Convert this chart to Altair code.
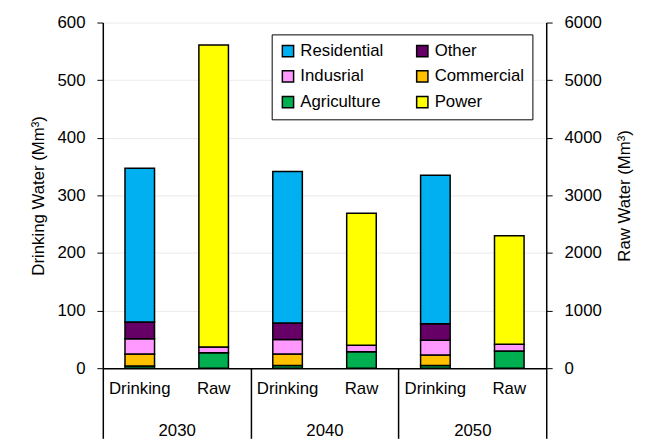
import altair as alt
import pandas as pd

years = ["2030", "2040", "2050"]
# legend domain ordered so the column-major 2-column legend reads
# Residential/Other, Indusrial/Commercial, Agriculture/Power by rows
sectors = ["Residential", "Indusrial", "Agriculture", "Other", "Commercial", "Power"]
colors = ["#00B0F0", "#FF99FF", "#00B050", "#660066", "#FFC000", "#FFFF00"]
stack_rank = {"Agriculture": 0, "Commercial": 1, "Indusrial": 2, "Other": 3, "Residential": 4, "Power": 5}

# Drinking water (Mm3, left axis)
drink_agriculture = [4, 4.5, 4.5]
drink_commercial = [20.5, 20, 18.3]
drink_industrial = [26.5, 25.5, 25.6]
drink_other = [29, 28.6, 28.6]
drink_residential = [267, 263, 258]

# Raw water (Mm3, right axis)
raw_agriculture = [268, 285, 300]
raw_industrial = [100, 115, 115]
raw_power = [5242, 2290, 1885]

rows = []
for i, y in enumerate(years):
    for s, v in [("Agriculture", drink_agriculture[i]), ("Commercial", drink_commercial[i]),
                 ("Indusrial", drink_industrial[i]), ("Other", drink_other[i]),
                 ("Residential", drink_residential[i])]:
        rows.append({"year": y, "type": "Drinking", "key": f"{y}|Drinking", "sector": s,
                     "value": v, "rank": stack_rank[s]})
    for s, v in [("Agriculture", raw_agriculture[i]), ("Indusrial", raw_industrial[i]),
                 ("Power", raw_power[i])]:
        rows.append({"year": y, "type": "Raw", "key": f"{y}|Raw", "sector": s,
                     "value": v, "rank": stack_rank[s]})
df = pd.DataFrame(rows)
keys = [f"{y}|{t}" for y in years for t in ["Drinking", "Raw"]]
year_df = pd.DataFrame({"year": years})

FONT = "Liberation Sans"
FS = 17

color = alt.Color("sector:N", scale=alt.Scale(domain=sectors, range=colors),
                  legend=alt.Legend(title=None, orient="none", legendX=171, legendY=12,
                                    columns=2, symbolType="square", symbolSize=130,
                                    symbolStrokeColor="black", symbolStrokeWidth=1.5,
                                    labelFontSize=FS, labelFont=FONT, labelColor="black",
                                    strokeColor="black", fillColor="white", padding=8,
                                    columnPadding=29, rowPadding=7, labelOffset=4))

xaxis = alt.Axis(labelExpr="split(datum.value, '|')[1]", labelAngle=0,
                 ticks=False, labelPadding=13, labelFontSize=FS, labelFont=FONT,
                 labelColor="black", domainColor="black", domainWidth=1.5)
xscale = alt.Scale(paddingInner=0.6, paddingOuter=0.3)

drink = alt.Chart(df[df.type == "Drinking"]).mark_bar(stroke="black", strokeWidth=1.5).encode(
    x=alt.X("key:N", sort=keys, title=None, scale=xscale, axis=xaxis),
    y=alt.Y("value:Q", stack="zero", title="Drinking Water (Mm³)",
            scale=alt.Scale(domain=[0, 600], nice=False),
            axis=alt.Axis(values=[0, 100, 200, 300, 400, 500, 600], grid=True, format="d",
                          gridColor="#ebebeb", gridWidth=1, tickColor="black", tickSize=6,
                          domainColor="black", domainWidth=1.5, labelFontSize=FS,
                          labelFont=FONT, labelColor="black", titleFontSize=FS,
                          titleFont=FONT, titleFontWeight="normal", titleColor="black",
                          titlePadding=10, labelPadding=12)),
    color=color,
    order=alt.Order("rank:Q"),
)

raw = alt.Chart(df[df.type == "Raw"]).mark_bar(stroke="black", strokeWidth=1.5).encode(
    x=alt.X("key:N", sort=keys, title=None, scale=xscale, axis=xaxis),
    y=alt.Y("value:Q", stack="zero", title="Raw Water (Mm³)",
            scale=alt.Scale(domain=[0, 6000], nice=False),
            axis=alt.Axis(orient="right", values=[0, 1000, 2000, 3000, 4000, 5000, 6000],
                          format="d", grid=False, tickColor="black", tickSize=6,
                          domainColor="black", domainWidth=1.5, labelFontSize=FS,
                          labelFont=FONT, labelColor="black", titleFontSize=FS,
                          titleFont=FONT, titleFontWeight="normal", titleColor="black",
                          titlePadding=16, labelPadding=12, titleAngle=270,
                          titleBaseline="top")),
    color=color,
    order=alt.Order("rank:Q"),
)

inner = alt.layer(drink, raw).resolve_scale(y="independent")

year_layer = alt.Chart(year_df).mark_point(opacity=0).encode(
    x=alt.X("year:N", sort=years, title=None,
            axis=alt.Axis(orient="bottom", labelAngle=0, domain=False, ticks=True,
                          tickBand="extent", tickSize=71, tickColor="black", tickWidth=1.5,
                          labelPadding=-16, labelFontSize=FS, labelFont=FONT,
                          labelColor="black")),
    y=alt.value(0),
)

chart = alt.layer(inner, year_layer).resolve_scale(x="independent").properties(
    width=449, height=350,
    autosize=alt.AutoSizeParams(type="none"),
    padding={"left": 96, "top": 12, "right": 99, "bottom": 71},
    background="white",
).configure_view(stroke=None)

chart.save("out.html", embed_options={"renderer": "svg", "actions": False})
